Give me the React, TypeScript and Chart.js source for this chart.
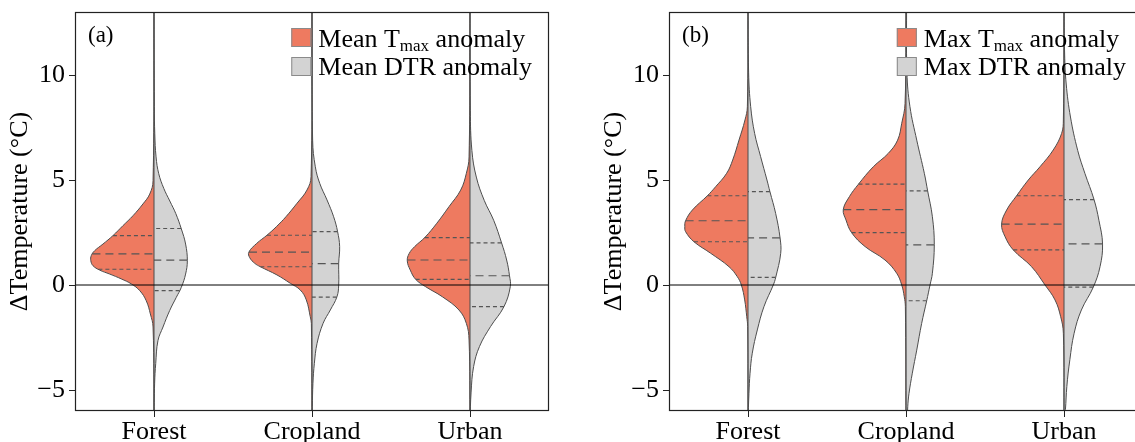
import React, { useEffect, useRef } from "react";
import { Chart, registerables } from "chart.js";

Chart.register(...registerables);

// ---------- data ----------
const categories = ["Forest", "Cropland", "Urban"];
const yTicks = [-5, 0, 5, 10];
const yRange = [-6, 13];

// Violin half-profiles: [ΔT (°C), half-width in category units]
// Panel (a): mean T_max anomaly (left halves)
const forestMeanTmax = [[-6.5, 0], [-2.0, 0.006], [-1.38, 0.023], [-0.75, 0.049], [-0.27, 0.09], [0.05, 0.143], [0.29, 0.207], [0.52, 0.28], [0.71, 0.344], [0.92, 0.386], [1.16, 0.4], [1.4, 0.397], [1.63, 0.376], [1.95, 0.323], [2.35, 0.26], [2.83, 0.196], [3.3, 0.133], [3.86, 0.07], [4.33, 0.027], [4.97, 0.006], [13.5, 0]];
const croplandMeanTmax = [[-6.5, 0], [-1.83, 0.004], [-1.51, 0.011], [-0.71, 0.036], [-0.24, 0.074], [0.08, 0.137], [0.48, 0.222], [0.87, 0.327], [1.03, 0.362], [1.3, 0.394], [1.56, 0.4], [1.98, 0.35], [2.37, 0.285], [2.78, 0.225], [3.25, 0.165], [3.89, 0.095], [4.52, 0.032], [5.16, 0.006], [13.5, 0]];
const urbanMeanTmax = [[-6.5, 0], [-2.62, 0.006], [-1.83, 0.023], [-1.19, 0.07], [-0.56, 0.175], [-0.08, 0.281], [0.27, 0.344], [0.71, 0.378], [1.15, 0.397], [1.5, 0.385], [1.83, 0.35], [2.27, 0.285], [2.94, 0.21], [3.73, 0.133], [4.52, 0.059], [5.32, 0.023], [6.1, 0.006], [13.5, 0]];
// Panel (a): mean DTR anomaly (right halves)
const forestMeanDTR = [[-6.5, 0], [-4.68, 0.004], [-3.73, 0.011], [-2.65, 0.025], [-2.0, 0.057], [-1.22, 0.099], [-0.59, 0.141], [-0.11, 0.173], [0.52, 0.2], [1.16, 0.211], [1.95, 0.2], [2.67, 0.173], [3.4, 0.138], [4.0, 0.1], [4.6, 0.062], [5.3, 0.03], [6.1, 0.013], [7.2, 0.005], [8.5, 0.002], [13.5, 0]];
const croplandMeanDTR = [[-6.5, 0], [-5.8, 0.002], [-4.68, 0.006], [-3.73, 0.015], [-2.78, 0.032], [-1.83, 0.07], [-1.19, 0.116], [-0.56, 0.158], [0, 0.169], [1.03, 0.169], [1.83, 0.175], [2.54, 0.162], [3.25, 0.137], [4.05, 0.095], [4.84, 0.049], [5.63, 0.021], [6.9, 0.004], [13.5, 0]];
const urbanMeanDTR = [[-6.5, 0], [-5.1, 0.007], [-3.88, 0.023], [-2.93, 0.06], [-1.98, 0.13], [-1.03, 0.215], [-0.08, 0.255], [0.44, 0.25], [1.19, 0.232], [2.0, 0.2], [3.08, 0.15], [4.03, 0.09], [5.14, 0.04], [6.4, 0.012], [8.3, 0.002], [13.5, 0]];
// Panel (b): max T_max anomaly (left halves)
const forestMaxTmax = [[-6.5, 0], [-1.98, 0.002], [-1.51, 0.008], [-0.71, 0.021], [0, 0.042], [0.4, 0.068], [0.87, 0.12], [1.51, 0.236], [2.06, 0.342], [2.54, 0.395], [2.78, 0.4], [3.06, 0.395], [3.57, 0.352], [4.25, 0.257], [4.68, 0.205], [5.32, 0.135], [5.95, 0.097], [6.9, 0.057], [7.86, 0.019], [8.49, 0.004], [13.5, 0]];
const croplandMaxTmax = [[-6.5, 0], [-1.03, 0.004], [-0.56, 0.011], [0, 0.027], [0.56, 0.059], [1.19, 0.133], [1.83, 0.259], [2.49, 0.344], [3.1, 0.38], [3.59, 0.397], [4.21, 0.358], [4.79, 0.302], [5.63, 0.207], [6.27, 0.112], [6.9, 0.053], [7.7, 0.027], [8.65, 0.006], [13.5, 0]];
const urbanMaxTmax = [[-6.5, 0], [-2.3, 0.004], [-1.51, 0.021], [-0.71, 0.057], [0, 0.12], [0.87, 0.205], [1.67, 0.321], [2.3, 0.373], [2.9, 0.395], [3.57, 0.363], [4.25, 0.3], [5.0, 0.226], [5.63, 0.152], [6.43, 0.068], [7.22, 0.015], [7.86, 0.004], [13.5, 0]];
// Panel (b): max DTR anomaly (right halves)
const forestMaxDTR = [[-6.5, 0], [-5.16, 0.006], [-4.2, 0.013], [-3.25, 0.027], [-2.14, 0.059], [-1.03, 0.101], [0, 0.16], [0.35, 0.175], [1.51, 0.207], [2.24, 0.203], [3.41, 0.175], [4.44, 0.139], [5.0, 0.12], [6.11, 0.08], [7.22, 0.042], [8.49, 0.017], [10.1, 0.004], [13.5, 0]];
const croplandMaxDTR = [[-7, 0], [-6.5, 0.008], [-5.8, 0.011], [-5.16, 0.019], [-4.2, 0.04], [-3.1, 0.068], [-1.83, 0.099], [-0.75, 0.131], [0, 0.152], [0.56, 0.167], [1.92, 0.179], [3.25, 0.167], [4.48, 0.137], [5.32, 0.116], [6.9, 0.068], [8.49, 0.025], [10.1, 0.006], [13.5, 0.003], [14, 0]];
const urbanMaxDTR = [[-6.5, 0], [-5.93, 0.009], [-4.83, 0.018], [-3.56, 0.037], [-2.3, 0.064], [-1.19, 0.11], [-0.11, 0.185], [0.87, 0.228], [1.95, 0.244], [3.08, 0.221], [4.07, 0.19], [5.3, 0.133], [6.4, 0.087], [8.0, 0.041], [9.57, 0.014], [11, 0.004], [13.5, 0]];

// Quartiles per category: [lower, median, upper]
const meanTmaxQuartiles = [[0.75, 1.48, 2.35], [0.87, 1.57, 2.37], [0.27, 1.19, 2.26]];
const meanDTRQuartiles = [[-0.27, 1.18, 2.69], [-0.58, 1.02, 2.54], [-1.03, 0.44, 2.01]];
const maxTmaxQuartiles = [[2.06, 3.06, 4.25], [2.49, 3.59, 4.8], [1.67, 2.9, 4.25]];
const maxDTRQuartiles = [[0.36, 2.24, 4.45], [-0.75, 1.91, 4.48], [-0.1, 1.96, 4.07]];

// ---------- style ----------
const ORANGE = "#EE7A60";
const GREY = "#D3D3D3";
const OUTLINE = "#4D4D4D";
const FRAME = "#222";
const FONT = '"Liberation Serif", "Times New Roman", serif';

type Profile = number[][];

function widthAt(profile: Profile, v: number): number {
  for (let i = 1; i < profile.length; i++) {
    const [v0, w0] = profile[i - 1];
    const [v1, w1] = profile[i];
    if (v >= v0 && v <= v1) return w0 + ((w1 - w0) * (v - v0)) / (v1 - v0);
  }
  return 0;
}

function buildDatasets(tmax: Profile[], dtr: Profile[], tq: number[][], dq: number[][]) {
  const base = { pointRadius: 0, pointHoverRadius: 0, fill: false, clip: 0, tension: 0 };
  const ds: any[] = [];
  ds.push({ ...base, data: [{ x: -1, y: 0 }, { x: 4, y: 0 }], borderColor: "#000", borderWidth: 1, order: 0 });
  categories.forEach((_, i) => {
    ds.push({ ...base, data: [{ x: i, y: -7 }, { x: i, y: 14 }], borderColor: OUTLINE, borderWidth: 1, order: 1 });
    const halves: [Profile, number[], number][] = [
      [tmax[i], tq[i], -1],
      [dtr[i], dq[i], 1],
    ];
    halves.forEach(([prof, qs, side]) => {
      qs.forEach((q, k) => {
        const w = widthAt(prof, q);
        ds.push({
          ...base,
          data: [{ x: i + side * w, y: q }, { x: i, y: q }],
          borderColor: "#555",
          borderWidth: 1.2,
          borderDash: k === 1 ? [8, 5] : [4, 3],
          order: 2,
        });
      });
    });
    ds.push({
      ...base,
      data: tmax[i].map(([v, w]) => ({ x: i - w, y: v })),
      fill: "shape",
      backgroundColor: ORANGE,
      borderColor: OUTLINE,
      borderWidth: 1,
      tension: 0.4,
      order: 3,
    });
    ds.push({
      ...base,
      data: dtr[i].map(([v, w]) => ({ x: i + w, y: v })),
      fill: "shape",
      backgroundColor: GREY,
      borderColor: OUTLINE,
      borderWidth: 1,
      tension: 0.4,
      order: 3,
    });
  });
  return ds;
}

function overlayPlugin(label: string, prefix: string) {
  return {
    id: "overlay",
    afterDatasetsDraw(chart: any) {
      const { ctx, chartArea: a } = chart;
      ctx.save();
      ctx.strokeStyle = FRAME;
      ctx.lineWidth = 1.2;
      ctx.strokeRect(a.left + 0.5, a.top + 0.5, a.right - a.left - 1, a.bottom - a.top - 1);

      ctx.fillStyle = "#000";
      ctx.textBaseline = "alphabetic";
      ctx.textAlign = "left";
      ctx.font = `23px ${FONT}`;
      ctx.fillText(label, a.left + 13, 42);

      const main = `26px ${FONT}`;
      const sub = `17px ${FONT}`;
      const l1a = `${prefix} T`;
      const l1b = "max";
      const l1c = " anomaly";
      const l2 = `${prefix} DTR anomaly`;
      ctx.font = main;
      const wA = ctx.measureText(l1a).width;
      const wC = ctx.measureText(l1c).width;
      const w2 = ctx.measureText(l2).width;
      ctx.font = sub;
      const wB = ctx.measureText(l1b).width;
      const maxW = Math.max(wA + wB + wC, w2);
      const tx = a.right - 17 - maxW;
      const b1 = 46.5;
      const b2 = 75;
      ctx.font = main;
      ctx.fillText(l1a, tx, b1);
      ctx.font = sub;
      ctx.fillText(l1b, tx + wA, b1 + 4.5);
      ctx.font = main;
      ctx.fillText(l1c, tx + wA + wB, b1);
      ctx.fillText(l2, tx, b2);

      const sx = tx - 7 - 20;
      ctx.lineWidth = 1;
      ctx.strokeStyle = "#8A8A8A";
      ctx.fillStyle = ORANGE;
      ctx.fillRect(sx, 28, 20, 19);
      ctx.strokeRect(sx + 0.5, 28.5, 19, 18);
      ctx.fillStyle = GREY;
      ctx.fillRect(sx, 57, 20, 19);
      ctx.strokeRect(sx + 0.5, 57.5, 19, 18);
      ctx.restore();
    },
  };
}

interface PanelCfg {
  label: string;
  prefix: string;
  tmax: Profile[];
  dtr: Profile[];
  tq: number[][];
  dq: number[][];
}

const panelA: PanelCfg = {
  label: "(a)",
  prefix: "Mean",
  tmax: [forestMeanTmax, croplandMeanTmax, urbanMeanTmax],
  dtr: [forestMeanDTR, croplandMeanDTR, urbanMeanDTR],
  tq: meanTmaxQuartiles,
  dq: meanDTRQuartiles,
};
const panelB: PanelCfg = {
  label: "(b)",
  prefix: "Max",
  tmax: [forestMaxTmax, croplandMaxTmax, urbanMaxTmax],
  dtr: [forestMaxDTR, croplandMaxDTR, urbanMaxDTR],
  tq: maxTmaxQuartiles,
  dq: maxDTRQuartiles,
};

function Panel({ cfg, left }: { cfg: PanelCfg; left: number }) {
  const ref = useRef<HTMLCanvasElement>(null);
  useEffect(() => {
    const gridOpts = { drawOnChartArea: false, drawTicks: true, tickLength: 6, color: FRAME, lineWidth: 1 };
    const chart = new Chart(ref.current as HTMLCanvasElement, {
      type: "line",
      data: { datasets: buildDatasets(cfg.tmax, cfg.dtr, cfg.tq, cfg.dq) },
      options: {
        responsive: false,
        animation: false,
        devicePixelRatio: 1,
        events: [],
        layout: { padding: { top: 12, right: 16, left: 0, bottom: 0 } },
        plugins: { legend: { display: false }, tooltip: { enabled: false } },
        scales: {
          x: {
            type: "linear",
            min: -0.5,
            max: 2.5,
            afterBuildTicks: (s: any) => {
              s.ticks = categories.map((_, i) => ({ value: i }));
            },
            ticks: {
              callback: (v: any) => categories[Math.round(Number(v))],
              font: { family: FONT, size: 26 },
              color: "#000",
              padding: 0,
              maxRotation: 0,
              autoSkip: false,
            },
            grid: gridOpts,
            border: { display: false },
            afterFit: (s: any) => {
              s.height = 31;
              s.paddingLeft = 0;
              s.paddingRight = 0;
            },
          },
          y: {
            type: "linear",
            min: yRange[0],
            max: yRange[1],
            afterBuildTicks: (s: any) => {
              s.ticks = yTicks.map((v) => ({ value: v }));
            },
            ticks: {
              callback: (v: any) => (Number(v) < 0 ? "\u2212" + Math.abs(Number(v)) : String(v)),
              font: { family: FONT, size: 26 },
              color: "#000",
              padding: 4,
            },
            grid: gridOpts,
            border: { display: false },
            title: {
              display: true,
              text: "\u0394Temperature (\u00B0C)",
              font: { family: FONT, size: 26, lineHeight: 1.2 },
              color: "#000",
              padding: { top: 5, bottom: 0 },
            },
            afterFit: (s: any) => {
              s.width = 75;
              s.paddingTop = 0;
              s.paddingBottom = 0;
            },
          },
        },
      } as any,
      plugins: [overlayPlugin(cfg.label, cfg.prefix)],
    });
    return () => chart.destroy();
  }, []);
  return (
    <canvas
      ref={ref}
      width={565}
      height={442}
      style={{ position: "absolute", left, top: 0, width: 565, height: 442 }}
    />
  );
}

export default function App() {
  return (
    <div
      style={{
        position: "absolute",
        left: 0,
        top: 0,
        width: 1135,
        height: 442,
        overflow: "hidden",
        background: "#fff",
      }}
    >
      <Panel cfg={panelA} left={0} />
      <Panel cfg={panelB} left={594} />
    </div>
  );
}
